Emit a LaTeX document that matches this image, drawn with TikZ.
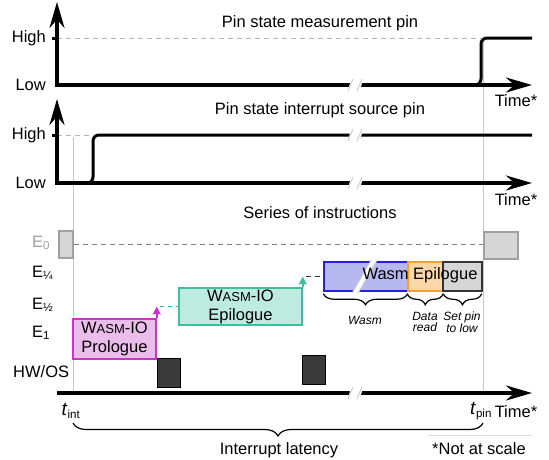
\documentclass[tikz,border=0pt]{standalone}
\usepackage{fontspec}
\setmainfont{Liberation Sans}
\usetikzlibrary{arrows.meta,decorations.pathreplacing}

\definecolor{guidegray}{HTML}{C8C8C8}
\definecolor{dashgray}{HTML}{B4B4B4}
\definecolor{ezerogray}{HTML}{A0A0A0}
\definecolor{prolfill}{HTML}{EBBDEB}
\definecolor{prolline}{HTML}{CC33CC}
\definecolor{epifill}{HTML}{BDEBE0}
\definecolor{epiline}{HTML}{3CBFA0}
\definecolor{wasmfill}{HTML}{B8B8F0}
\definecolor{wasmline}{HTML}{2222DD}
\definecolor{readfill}{HTML}{FAD7A8}
\definecolor{readline}{HTML}{F5A030}
\definecolor{setfill}{HTML}{D6D6D6}
\definecolor{hwfill}{HTML}{3A3A3A}

\begin{document}
\begin{tikzpicture}[x=1pt,y=-1pt,font=\fontsize{16.5}{19}\selectfont,inner sep=1pt]
        % Define styles
        \tikzset{
            axis/.style={line width=3.3pt,{Stealth[length=26pt,width=15pt]}-{Stealth[length=26pt,width=15pt]}},
            timeaxis/.style={line width=3.3pt,-{Stealth[length=26pt,width=15pt]}},
            signal/.style={line width=3pt, rounded corners=6pt},
            guide/.style={draw=guidegray, line width=1pt},
            level/.style={draw=dashgray, line width=1pt, dash pattern=on 5pt off 4pt},
            brk/.style={fill=white},
            brkline/.style={draw=guidegray, line width=0.8pt},
            block/.style={rectangle, draw, line width=1.5pt, inner sep=0pt, align=center},
            hwos/.style={rectangle, draw=black, fill=hwfill, line width=1pt, minimum width=23pt, minimum height=29pt},
            ezero/.style={rectangle, draw=ezerogray, fill=setfill, line width=1.5pt},
            part/.style={decorate, decoration={brace, mirror, amplitude=11pt}, line width=1.2pt},
            small/.style={font=\fontsize{12}{10.5}\selectfont\itshape, align=center}
        }
        \newcommand{\wasmio}{W{\fontsize{13}{13}\selectfont ASM}-IO}
        \useasboundingbox (0,0) rectangle (549,459);

        % Guide lines t_int and t_pin
        \coordinate (tinttop) at (73,137);
        \coordinate (tintbot) at (73,393);
        \coordinate (tpintop) at (483,41);
        \coordinate (tpinbot) at (483,393);
        \draw[guide] (tinttop) -- (tintbot);
        \draw[guide] (tpintop) -- (tpinbot);

        % Pin state measurement pin
        \node (title1) at (320,23) {Pin state measurement pin};
        \node[anchor=east] (high1) at (47,38) {High};
        \node[anchor=east] (low1) at (47,85) {Low};
        \coordinate (y1) at (57,2);
        \coordinate (x1) at (532,85);
        \coordinate (h1a) at (57,38);
        \coordinate (h1b) at (481,38);
        \coordinate (rise1) at (470,85);
        \draw[level] (h1a) -- (h1b);
        \draw[axis] (y1) |- (x1);
        \draw[line width=3pt] (52,38) -- (h1a);
        \draw[signal] (rise1) -- (481,85) -- (481,38) -- (532,38);
        \node (time1) at (516,101) {Time*};

        % Pin state interrupt source pin
        \node (title2) at (320,110) {Pin state interrupt source pin};
        \node[anchor=east] (high2) at (47,135) {High};
        \node[anchor=east] (low2) at (47,183) {Low};
        \coordinate (y2) at (57,99);
        \coordinate (x2) at (532,183);
        \coordinate (h2a) at (57,135);
        \coordinate (h2b) at (93,135);
        \draw[level] (h2a) -- (h2b);
        \draw[axis] (y2) |- (x2);
        \draw[line width=3pt] (52,135) -- (h2a);
        \draw[signal] (57,183) -- (93,183) -- (h2b) -- (532,135);
        \node (time2) at (516,200) {Time*};

        % Series of instructions
        \node (title3) at (320,213) {Series of instructions};
        \node[anchor=west, text=ezerogray] (lzero) at (31,243) {E\textsubscript{0}};
        \node[anchor=west] (lquarter) at (31,273) {E\textsubscript{¼}};
        \node[anchor=west] (lhalf) at (31,305) {E\textsubscript{½}};
        \node[anchor=west] (lone) at (31,333) {E\textsubscript{1}};
        \node[anchor=west] (lhw) at (12,372) {HW/OS};

        \node[ezero, minimum width=14pt, minimum height=27pt] (ezero_start) at (66,244.5) {};
        \node[ezero, minimum width=34pt, minimum height=27pt] (ezero_end) at (501,245.5) {};
        \draw[level, draw=gray] (ezero_start) -- (tpintop |- ezero_start);

        \node[block, draw=prolline, fill=prolfill, minimum width=83pt, minimum height=40pt] (prologue) at (114.5,339) {\wasmio\\Prologue};
        \node[block, draw=epiline, fill=epifill, minimum width=123pt, minimum height=37pt] (epilogue) at (240.5,306.5) {\wasmio\\Epilogue};
        \node[block, draw=wasmline, fill=wasmfill, minimum width=84pt, minimum height=29pt] (wasm) at (366,276.5) {};
        \node[block, draw=readline, fill=readfill, minimum width=35pt, minimum height=29pt] (dataread) at (425.5,276.5) {};
        \node[block, draw=black!80, fill=setfill, minimum width=39pt, minimum height=29pt] (setpin) at (462.5,276.5) {};
        \fill[white] (352,294) -- (358,294) -- (378,259) -- (372,259) -- cycle;
        \draw[brkline] (352,293) -- (371,260);
        \draw[brkline] (358,293) -- (377,260);
        \node (wasmtext) at (420,275) {Wasm Epilogue};

        % Arrows
        \coordinate (prolup) at (prologue.north east |- epilogue.west);
        \coordinate (epiup) at (epilogue.north east |- wasm.west);
        \draw[prolline, line width=1.5pt, -{Stealth[length=8pt,width=8pt,inset=1pt]}] (prologue.north east) -- (prolup);
        \draw[epiline, line width=1.2pt, dash pattern=on 4pt off 4pt] ([xshift=3pt]prolup) -- (epilogue.west);
        \draw[epiline, line width=1.5pt, -{Stealth[length=8pt,width=8pt,inset=1pt]}] (epilogue.north east) -- (epiup);
        \draw[black!80, line width=1.2pt, dash pattern=on 5pt off 4pt] ([xshift=3pt]epiup) -- (wasm.west);

        \node[hwos] (hw1) at (168.5,372.5) {};
        \node[hwos] (hw2) at (314,369.5) {};

        % Braces
        \draw[part] ([yshift=-2pt]wasm.south west) -- ([yshift=-2pt,xshift=-1pt]wasm.south east);
        \draw[part] ([yshift=-2pt]dataread.south west) -- ([yshift=-2pt,xshift=-0.5pt]dataread.south east);
        \draw[part] ([yshift=-2pt,xshift=1pt]setpin.south west) -- ([yshift=-2pt,xshift=-1pt]setpin.south east);
        \node[small] (lwasm) at (365,320) {Wasm};
        \node[small] (lread) at (425,322) {Data\\read};
        \node[small] (lset) at (462,322) {Set pin\\to low};

        % Time axis
        \coordinate (o3) at (57,393);
        \coordinate (x3) at (532,393);
        \draw[timeaxis] (o3) -- (x3);
        \node (tint) at (71,411) {\textit{\fontsize{19}{19}\selectfont t}\textsubscript{int}};
        \node (tpin) at (481,411) {\textit{\fontsize{19}{19}\selectfont t}\textsubscript{pin}};
        \node (time3) at (516,412) {Time*};

        % Breaks
        \fill[brk] (347,93) -- (352,77) -- (364,77) -- (359,93) -- cycle;
        \draw[brkline] (348,91) -- (353,79);
        \draw[brkline] (357,91) -- (362,79);
        \fill[brk] (347,143) -- (352,127) -- (364,127) -- (359,143) -- cycle;
        \draw[brkline] (348,141) -- (353,129);
        \draw[brkline] (357,141) -- (362,129);
        \fill[brk] (347,191) -- (352,175) -- (364,175) -- (359,191) -- cycle;
        \draw[brkline] (348,189) -- (353,177);
        \draw[brkline] (357,189) -- (362,177);
        \fill[brk] (347,401) -- (352,385) -- (364,385) -- (359,401) -- cycle;
        \draw[brkline] (348,399) -- (353,387);
        \draw[brkline] (357,399) -- (362,387);

        % Interrupt latency
        \draw[part, decoration={amplitude=13pt}] ([yshift=-30pt]tintbot) -- ([yshift=-30pt]tpinbot);
        \node (latency) at (279,450) {Interrupt latency};
        \coordinate (ruleL) at (428,435);
        \coordinate (ruleR) at (532,435);
        \draw[guide, draw=guidegray!70] (ruleL) -- (ruleR);
        \node (notscale) at (479,449) {*Not at scale};
    \end{tikzpicture}
\end{document}
